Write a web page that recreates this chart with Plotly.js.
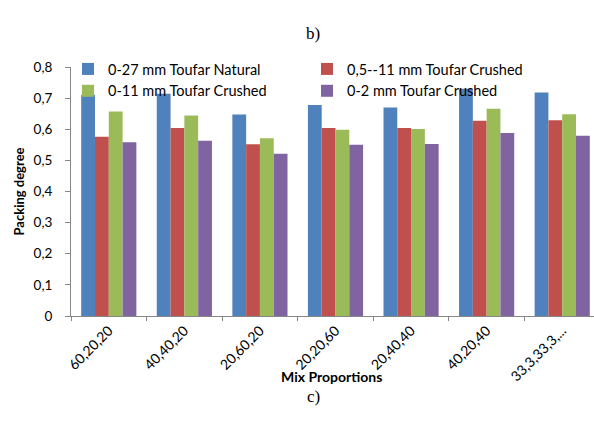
<!DOCTYPE html>
<html>
<head>
<meta charset="utf-8">
<script src="https://cdn.plot.ly/plotly-3.0.1.min.js"></script>
<style>html,body{margin:0;padding:0;overflow:hidden;background:#fff;}</style>
</head>
<body>
<div id="chart"></div>
<script>
const categories = ["60,20,20","40,40,20","20,60,20","20,20,60","20,40,40","40,20,40","33,3,33,3,..."];
const seriesNames = ["0-27 mm Toufar Natural","0,5--11 mm Toufar Crushed","0-11 mm Toufar Crushed","0-2 mm Toufar Crushed"];
const natural027 = [0.711,0.714,0.647,0.678,0.670,0.730,0.718];
const crushed0511 = [0.576,0.604,0.552,0.604,0.604,0.627,0.629];
const crushed011 = [0.657,0.644,0.571,0.598,0.601,0.666,0.648];
const crushed02 = [0.558,0.563,0.521,0.550,0.553,0.588,0.579];
const yTickVals = [0,0.1,0.2,0.3,0.4,0.5,0.6,0.7,0.8];
const yTickText = ["0","0,1","0,2","0,3","0,4","0,5","0,6","0,7","0,8"];
const colors = ["#4F81BD","#C0504D","#9BBB59","#8064A2"];
const allSeries = [natural027, crushed0511, crushed011, crushed02];
const legendOf = ["legend","legend2","legend","legend2"];

const font = "Lato, 'Open Sans', sans-serif";
const serif = "'Liberation Serif', 'DejaVu Serif', serif";
const traces = allSeries.map((vals,i)=>({
  type:'bar', x:categories, y:vals, name:seriesNames[i], legend:legendOf[i],
  marker:{color:colors[i], line:{width:0}}
}));

const W = 529, H = 249, L = 71, T = 67;
const px = x => (x - L) / W;
const py = y => 1 - (y - T) / H;

const legendBase = {orientation:'v', yanchor:'top', xanchor:'left', y:py(53),
  font:{family:font, size:14.5, color:'#000'}, bgcolor:'rgba(0,0,0,0)',
  tracegroupgap:0, itemwidth:30, traceorder:'normal'};

const layout = {
  width:600, height:435,
  margin:{l:L, r:0, t:T, b:119},
  paper_bgcolor:'#fff', plot_bgcolor:'#fff',
  bargap:0.27, bargroupgap:0,
  showlegend:true,
  legend:Object.assign({}, legendBase, {x:px(68)}),
  legend2:Object.assign({}, legendBase, {x:px(307)}),
  font:{family:font, color:'#000'},
  xaxis:{type:'category', tickangle:-45, tickson:'boundaries', ticks:'outside', ticklen:4,
    tickcolor:'#868686', showline:true, linecolor:'#868686', linewidth:1,
    showgrid:false, ticklabelstandoff:0, tickfont:{family:font, size:14, color:'#000'}},
  yaxis:{range:[0,0.8], tickvals:yTickVals, ticktext:yTickText, ticks:'outside', ticklen:5,
    tickcolor:'#868686', showline:true, linecolor:'#868686', linewidth:1,
    showgrid:false, zeroline:false, ticklabelstandoff:10, tickfont:{family:font, size:13.5, color:'#000'},
    title:{text:'<b>Packing degree</b>', font:{family:font, size:13, color:'#000'}, standoff:6}},
  annotations:[
    {text:'b)', xref:'paper', yref:'paper', x:px(313), y:py(22), showarrow:false,
     font:{family:serif, size:17, color:'#000'}},
    {text:'<b>Mix Proportions</b>', xref:'paper', yref:'paper', x:px(331), y:py(387), showarrow:false,
     font:{family:font, size:14, color:'#000'}},
    {text:'c)', xref:'paper', yref:'paper', x:px(313), y:py(408), showarrow:false,
     font:{family:serif, size:17, color:'#000'}}
  ]
};
Plotly.newPlot('chart', traces, layout, {displayModeBar:false, staticPlot:true});
</script>
</body>
</html>
